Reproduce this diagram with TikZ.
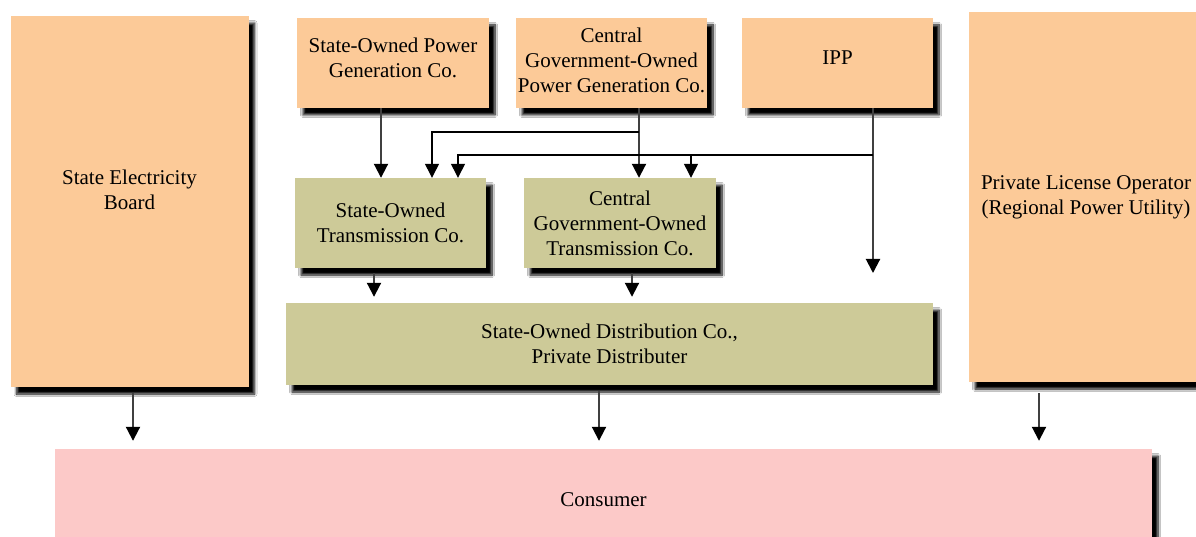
\documentclass[tikz,border=0pt]{standalone}
\usepackage{fontspec}
\setmainfont{Liberation Serif}
\usetikzlibrary{arrows.meta,shadows.blur}
\definecolor{boxorange}{HTML}{FCCA98}
\definecolor{boxolive}{HTML}{CDCA98}
\definecolor{boxpink}{HTML}{FCC9C8}
\tikzset{
  txt/.style={align=center, font=\fontsize{21}{25}\selectfont},
  box/.style={fill=#1, draw=none, inner sep=0pt, txt,
    blur shadow={shadow xshift=6pt, shadow yshift=-7pt, shadow blur radius=2.5pt,
      shadow opacity=100, shadow blur steps=8}},
  tipstyle/.style={-{Triangle[width=14pt,length=14pt,fill=black,color=black]}},
  arr/.style={tipstyle, line width=2pt, draw=black!75},
  brarr/.style={tipstyle, line width=1.3pt, draw=black},
}
\begin{document}
\begin{tikzpicture}[x=1pt,y=-1pt]
\clip (0,0) rectangle (1196,537);
\fill[white] (0,0) rectangle (1196,537);
% boxes
\node[box=boxorange, minimum width=238pt, minimum height=371pt,
  label={[txt, yshift=12pt]center:State Electricity\\Board}] (seb) at (129.5,201.5) {};
\node[box=boxorange, minimum width=192pt, minimum height=90pt,
  label={[txt, yshift=5pt]center:State-Owned Power\\Generation Co.}] (sopg) at (393,63) {};
\node[box=boxorange, minimum width=191pt, minimum height=90pt,
  label={[txt, yshift=3pt]center:Central\\Government-Owned\\Power Generation Co.}] (cgpg) at (611.5,63) {};
\node[box=boxorange, minimum width=191pt, minimum height=90pt,
  label={[txt, yshift=5pt]center:IPP}] (ipp) at (837.5,63) {};
\node[box=boxorange, minimum width=234pt, minimum height=370pt] (plo) at (1086,197) {Private License Operator\\(Regional Power Utility)};
\node[box=boxolive, minimum width=191pt, minimum height=90pt] (sotc) at (390.5,223) {State-Owned\\Transmission Co.};
\node[box=boxolive, minimum width=192pt, minimum height=90pt] (cgtc) at (620,223) {Central\\Government-Owned\\Transmission Co.};
\node[box=boxolive, minimum width=647pt, minimum height=82pt] (dist) at (609.5,344) {State-Owned Distribution Co.,\\Private Distributer};
\node[box=boxpink, minimum width=1097pt, minimum height=102pt] (cons) at (603.5,500) {Consumer};
% helper coordinates
\coordinate (xa) at (381,0);
\coordinate (xb) at (639,0);
\coordinate (xc) at (432,0);
\coordinate (xd) at (873,0);
\coordinate (xe) at (458,0);
\coordinate (xf) at (691,0);
\coordinate (xg) at (374,0);
\coordinate (xh) at (632,0);
\coordinate (xi) at (133,0);
\coordinate (xj) at (599,0);
\coordinate (xk) at (1039,0);
\coordinate (j1) at (639,132);
\coordinate (j2) at (873,155);
\coordinate (ippend) at (873,273);
% generation to transmission
\draw[arr] (sopg.south -| xa) -- (sotc.north -| xa);
\draw[arr] (cgpg.south -| xb) -- (cgtc.north -| xb);
\draw[brarr] (j1) -| (sotc.north -| xc);
\draw[arr] (ipp.south -| xd) -- (ippend);
\draw[brarr] (j2) -| (sotc.north -| xe);
\draw[brarr] (j2 -| xf) -- (cgtc.north -| xf);
% transmission to distribution
\draw[arr, shorten <=5pt, shorten >=6pt] (sotc.south -| xg) -- (dist.north -| xg);
\draw[arr, shorten <=5pt, shorten >=6pt] (cgtc.south -| xh) -- (dist.north -| xh);
% to consumer
\draw[arr, shorten <=6pt, shorten >=8pt] (seb.south -| xi) -- (cons.north -| xi);
\draw[arr, shorten <=6pt, shorten >=8pt] (dist.south -| xj) -- (cons.north -| xj);
\draw[arr, shorten <=11pt, shorten >=8pt] (plo.south -| xk) -- (cons.north -| xk);
\end{tikzpicture}
\end{document}
